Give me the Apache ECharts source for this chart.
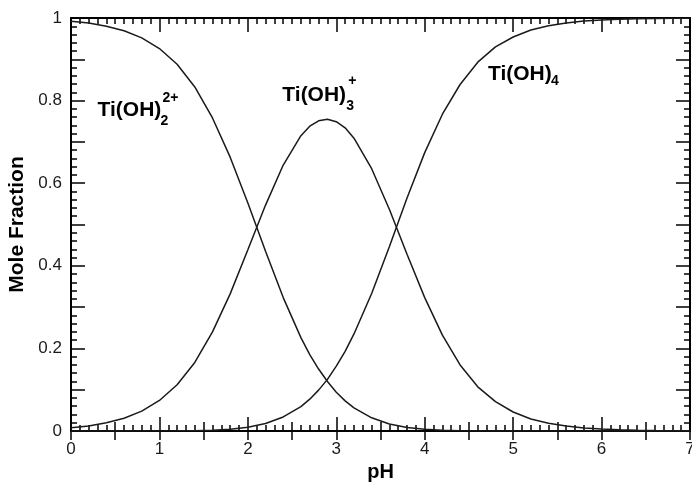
<!DOCTYPE html>
<html>
<head>
<meta charset="utf-8">
<script src="https://cdn.jsdelivr.net/npm/echarts@6/dist/echarts.min.js"></script>
<style>
html,body{margin:0;padding:0;background:#fff;}
#chart{width:692px;height:482px;}
</style>
</head>
<body>
<div id="chart"></div>
<script>
// pH grid
const ph = [0,0.2,0.4,0.6,0.8,1,1.2,1.4,1.6,1.8,2,2.2,2.4,2.6,2.7,2.8,2.9,3,3.1,3.2,3.4,3.6,3.8,4,4.2,4.4,4.6,4.8,5,5.2,5.4,5.6,5.8,6,6.2,6.4,6.6,6.8,7];
// Ti(OH)2^2+
const tiOH2 = [0.992,0.988,0.980,0.969,0.952,0.926,0.888,0.833,0.758,0.663,0.552,0.435,0.323,0.226,0.185,0.150,0.120,0.094,0.073,0.056,0.032,0.017,0.0085,0.0041,0.0018,0.0008,0.0003,0.0001,0,0,0,0,0,0,0,0,0,0,0];
// Ti(OH)3^+
const tiOH3 = [0.008,0.012,0.020,0.031,0.048,0.074,0.112,0.166,0.240,0.332,0.439,0.547,0.644,0.715,0.738,0.751,0.755,0.749,0.734,0.709,0.635,0.537,0.428,0.323,0.232,0.160,0.107,0.071,0.046,0.029,0.019,0.012,0.0075,0.0048,0.0030,0.0019,0.0012,0.0008,0.0005];
// Ti(OH)4
const tiOH4 = [0,0,0,0,0.0001,0.0002,0.0004,0.0009,0.0020,0.0044,0.0092,0.018,0.034,0.059,0.077,0.099,0.125,0.157,0.193,0.235,0.333,0.446,0.564,0.674,0.767,0.839,0.893,0.930,0.954,0.971,0.981,0.988,0.9925,0.9952,0.9970,0.9981,0.9988,0.9992,0.9995];

const xTickLabels = ['0','1','2','3','4','5','6','7'];
const yTickLabels = ['0','0.2','0.4','0.6','0.8','1'];

// annotation anchors (pH, fraction) and texts
const labelAnchors = [[0.300,0.776],[2.390,0.814],[4.715,0.863]];
const labelMain = ['Ti(OH)','Ti(OH)','Ti(OH)'];
const labelSub = ['2','3','4'];
const labelSup = ['2+','+',''];

const FONT = '"Liberation Sans", Arial, Helvetica, sans-serif';
const INK = '#000';

function pairs(ys){ return ph.map((x,i)=>[x, ys[i]]); }

const tickBase = {show:true, inside:true, lineStyle:{color:INK, width:1.5}};

function xAx(pos, interval, len, opts){
  return Object.assign({
    type:'value', gridIndex:0, position:pos, min:0, max:7, interval:interval,
    axisLine:{show:false}, splitLine:{show:false},
    axisLabel:{show:false},
    axisTick:Object.assign({}, tickBase, {length:len}),
  }, opts||{});
}
function yAx(pos, opts){
  return Object.assign({
    type:'value', gridIndex:0, position:pos, min:0, max:1, interval:0.1,
    axisLine:{show:true, onZero:false, lineStyle:{color:INK, width:2}},
    splitLine:{show:false},
    axisLabel:{show:false},
    axisTick:Object.assign({}, tickBase, {length:14}),
    minorTick:{show:true, splitNumber:5, length:6, lineStyle:{color:INK, width:1.5}}
  }, opts||{});
}

const annData = [];
labelAnchors.forEach((a,i)=>{
  annData.push({value:a, label:{formatter:labelMain[i], fontSize:21, offset:[0,0]}});
});
const subOff = [[63,11],[64,11.5],[63,7]];
const supOff = [[65,-12.5],[66,-13.5],[0,0]];
labelAnchors.forEach((a,i)=>{
  annData.push({value:a, label:{formatter:labelSub[i], fontSize:14, offset:subOff[i]}});
  if (labelSup[i]) annData.push({value:a, label:{formatter:labelSup[i], fontSize:14, offset:supOff[i]}});
});

const option = {
  animation:false,
  backgroundColor:'#fff',
  textStyle:{fontFamily:FONT},
  grid:{left:71, right:2, top:18, bottom:51, containLabel:false, outerBoundsMode:'none'},
  xAxis:[
    xAx('bottom', 1, 14, {
      axisLine:{show:true, onZero:false, lineStyle:{color:INK, width:2}},
      axisLabel:{show:true, margin:10, color:'#1a1a1a', fontSize:17, fontFamily:FONT,
        formatter:v=>{const k=Math.round(v); return Math.abs(v-k)<1e-6 ? xTickLabels[k] : '';}},
      minorTick:{show:true, splitNumber:10, length:6, lineStyle:{color:INK, width:1.5}},
      name:'pH', nameLocation:'middle', nameGap:29,
      nameTextStyle:{fontSize:20, fontWeight:'bold', color:INK, fontFamily:FONT}
    }),
    xAx('bottom', 0.5, 9),
    xAx('top', 1, 14, {
      axisLine:{show:true, onZero:false, lineStyle:{color:INK, width:2}},
      minorTick:{show:true, splitNumber:10, length:6, lineStyle:{color:INK, width:1.5}}
    }),
    xAx('top', 0.5, 9)
  ],
  yAxis:[
    yAx('left', {
      axisLabel:{show:true, margin:9, color:'#1a1a1a', fontSize:17, fontFamily:FONT,
        formatter:v=>{const k=Math.round(v*5); return Math.abs(v*5-k)<1e-6 ? yTickLabels[k] : '';}},
      name:'Mole Fraction', nameLocation:'middle', nameGap:42,
      nameTextStyle:{fontSize:21, fontWeight:'bold', color:INK, fontFamily:FONT}
    }),
    yAx('right')
  ],
  series:[
    {type:'line', name:'Ti(OH)2 2+', xAxisIndex:0, yAxisIndex:0, data:pairs(tiOH2), smooth:false, showSymbol:false, lineStyle:{color:'#1a1a1a', width:1.5}},
    {type:'line', name:'Ti(OH)3 +', xAxisIndex:0, yAxisIndex:0, data:pairs(tiOH3), smooth:false, showSymbol:false, lineStyle:{color:'#1a1a1a', width:1.5}},
    {type:'line', name:'Ti(OH)4', xAxisIndex:0, yAxisIndex:0, data:pairs(tiOH4), smooth:false, showSymbol:false, lineStyle:{color:'#1a1a1a', width:1.5}},
    {type:'scatter', xAxisIndex:0, yAxisIndex:0, symbolSize:0, silent:true, data:annData,
      itemStyle:{opacity:1},
      label:{show:true, position:'inside', align:'left', verticalAlign:'middle', color:INK, opacity:1, fontWeight:'bold', fontFamily:FONT}}
  ]
};

const chart = echarts.init(document.getElementById('chart'), null, {renderer:'canvas'});
chart.setOption(option);
</script>
</body>
</html>
